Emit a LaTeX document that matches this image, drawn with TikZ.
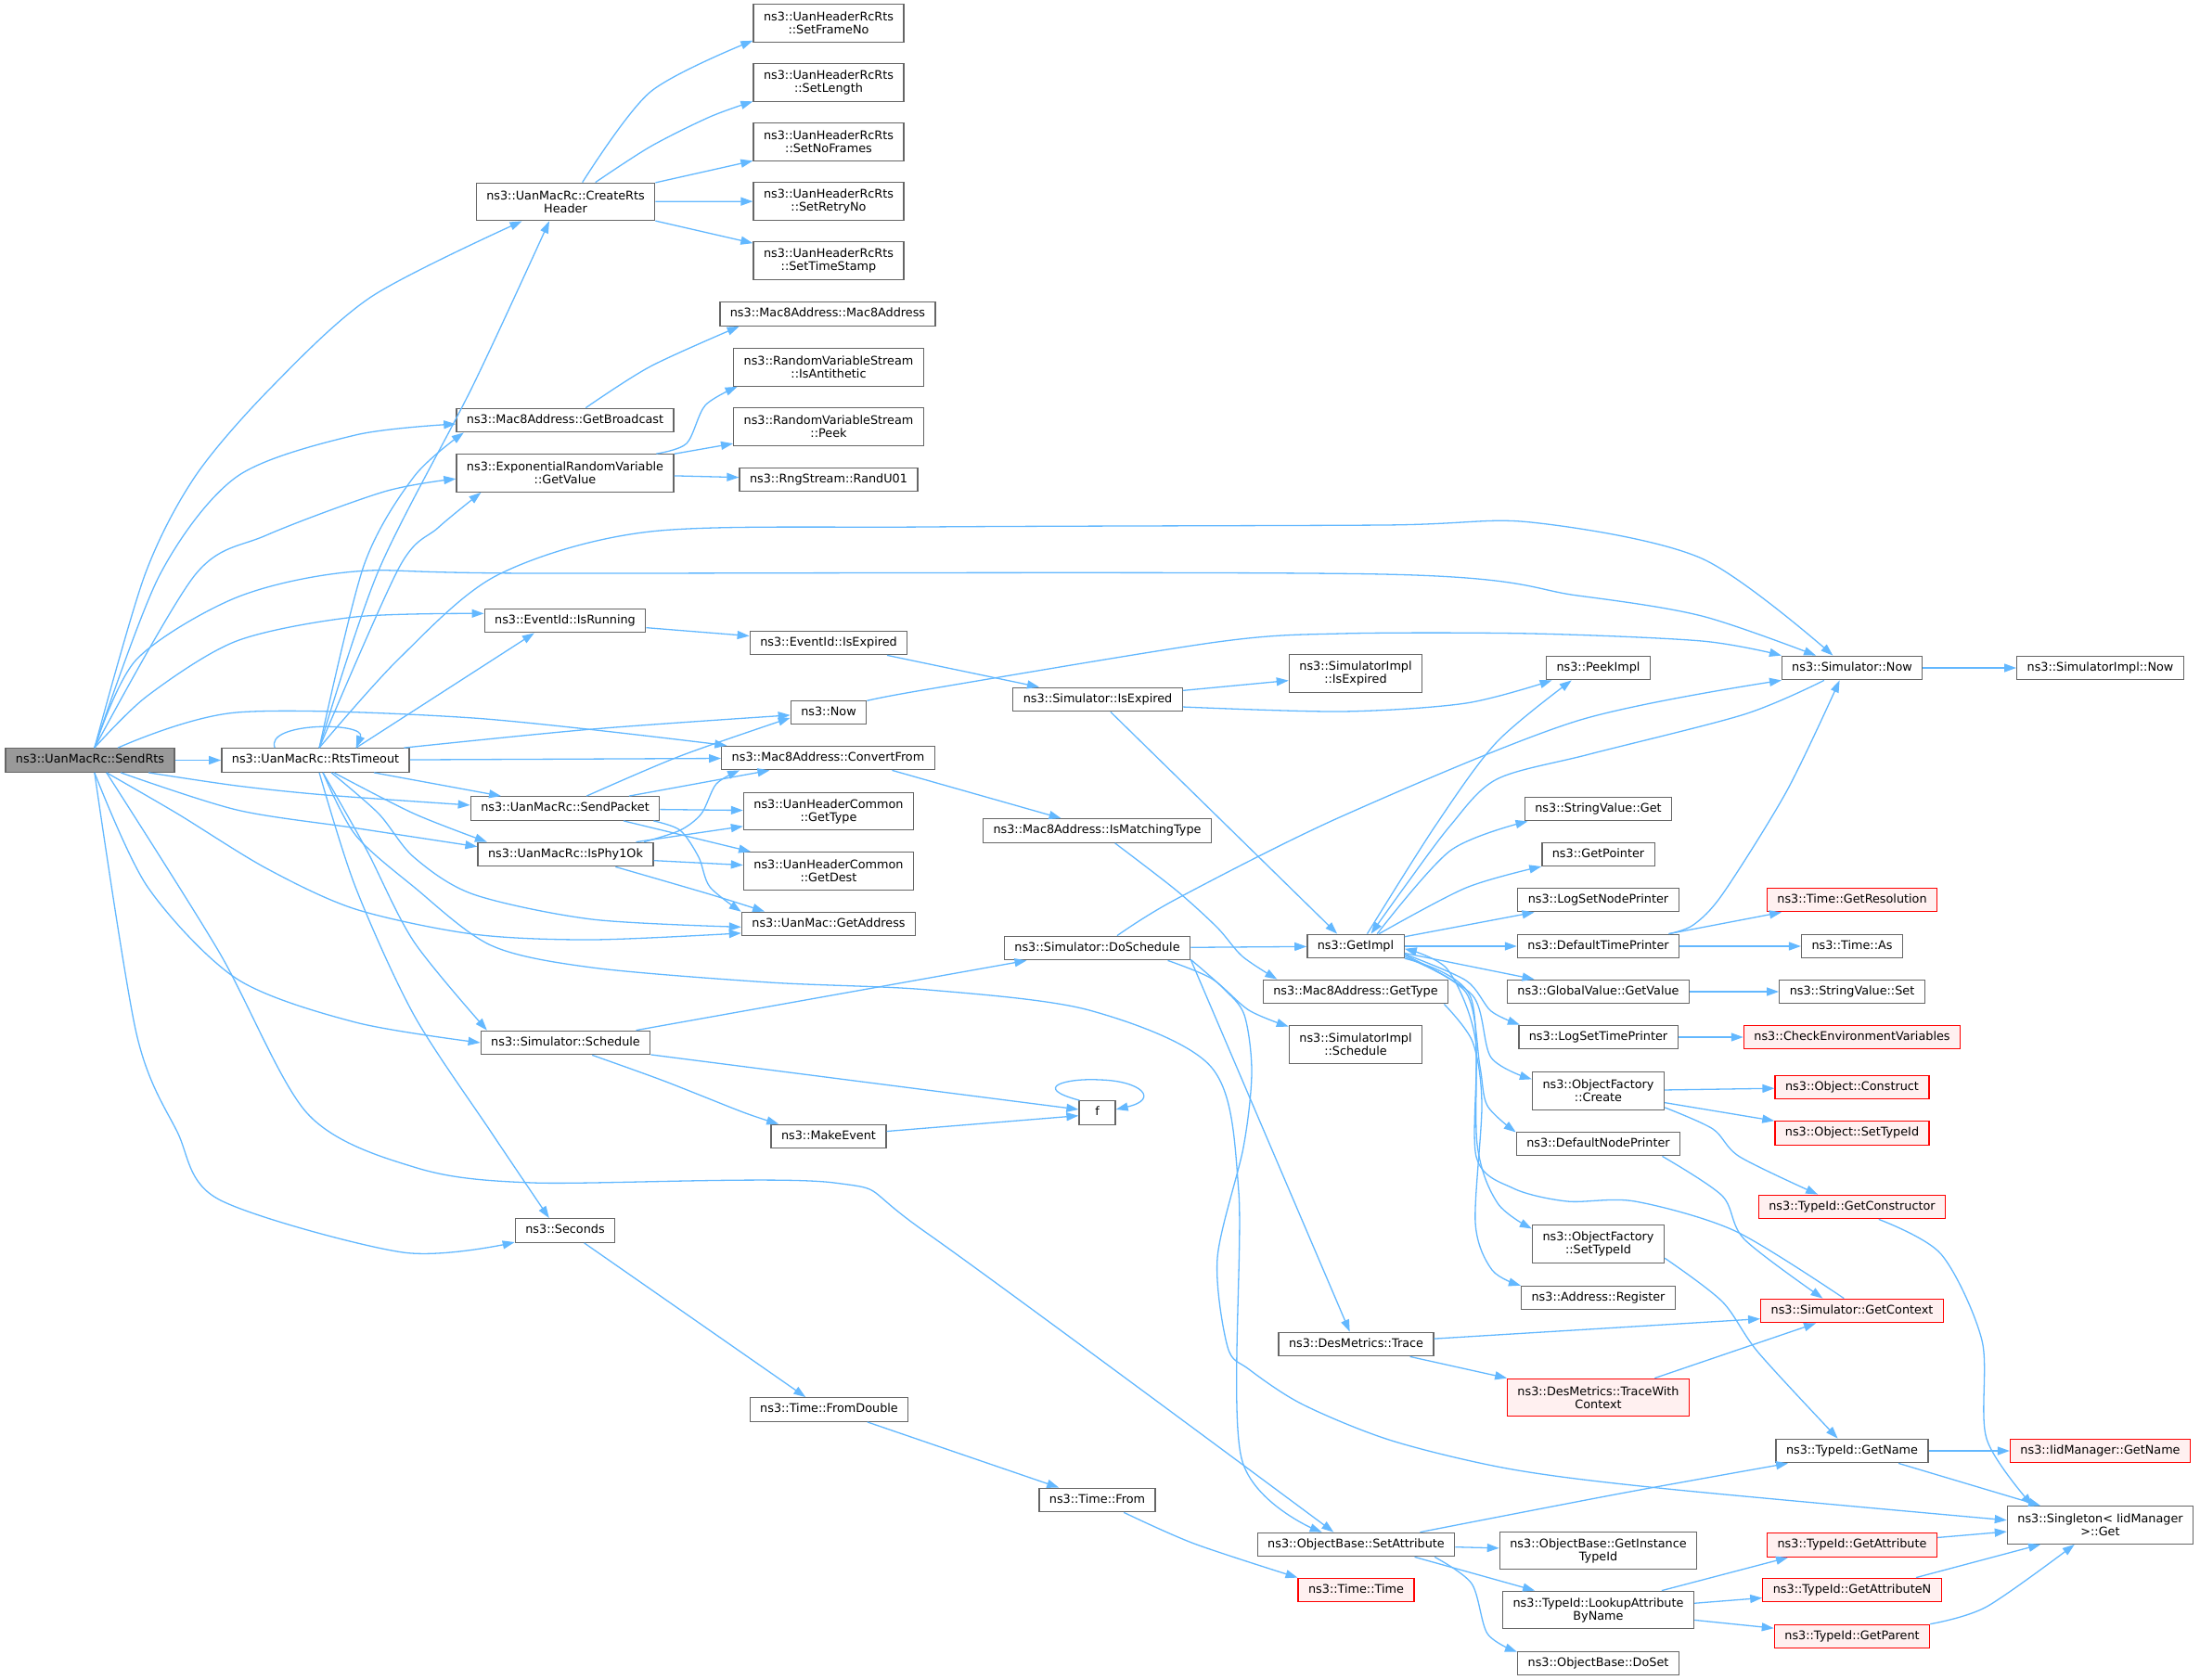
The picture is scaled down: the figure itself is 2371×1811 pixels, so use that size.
\documentclass[tikz,border=0pt]{standalone}
\usepackage{fontspec}
\setmainfont{DejaVu Sans}
\usetikzlibrary{arrows.meta}
\definecolor{edgeblue}{HTML}{63B8FF}
\definecolor{boxgray}{HTML}{666666}
\definecolor{boxred}{HTML}{FF0000}
\definecolor{redfill}{HTML}{FFF0F0}
\definecolor{grayfill}{HTML}{999999}
\tikzset{
    mybase/.style = {rectangle, line width=1.3pt, draw=boxgray, fill=white, inner xsep=11pt, inner ysep=2pt, font=\fontsize{12.8}{14}\selectfont, text=black},
    mynode/.style = {mybase, minimum height=25.5pt, text height=9.6pt, text depth=3.2pt},
    mynodet/.style = {mybase, minimum height=40.5pt, align=center},
    mynoder/.style = {mynode, draw=boxred, fill=redfill},
    mynodert/.style = {mynodet, draw=boxred, fill=redfill},
    mynodeg/.style = {mynode, fill=grayfill},
    edgeb/.style = {-{Triangle[length=13pt,width=9pt]}, line width=1.3pt, edgeblue}
}
\begin{document}
\begin{tikzpicture}[x=1pt, y=-1pt]
  \useasboundingbox (0,0) rectangle (2371,1811);
  % nodes
  \node[mynodeg] (sendrts) at (97,819.5) {ns3::UanMacRc::SendRts};
  \node[mynode] (rtstimeout) at (340,819.5) {ns3::UanMacRc::RtsTimeout};
  \node[mynodet] (createrts) at (609.5,217.5) {ns3::UanMacRc::CreateRts\\Header};
  \node[mynodet] (setframeno) at (893,25) {ns3::UanHeaderRcRts\\::SetFrameNo};
  \node[mynodet] (setlength) at (893,89) {ns3::UanHeaderRcRts\\::SetLength};
  \node[mynodet] (setnoframes) at (893,153) {ns3::UanHeaderRcRts\\::SetNoFrames};
  \node[mynodet] (setretryno) at (893,217) {ns3::UanHeaderRcRts\\::SetRetryNo};
  \node[mynodet] (settimestamp) at (893,281) {ns3::UanHeaderRcRts\\::SetTimeStamp};
  \node[mynode] (mac8addr) at (892,338.5) {ns3::Mac8Address::Mac8Address};
  \node[mynodet] (isantithetic) at (893,396) {ns3::RandomVariableStream\\::IsAntithetic};
  \node[mynodet] (peek) at (893,460) {ns3::RandomVariableStream\\::Peek};
  \node[mynode] (randu01) at (893,517) {ns3::RngStream::RandU01};
  \node[mynode] (getbroadcast) at (609,453) {ns3::Mac8Address::GetBroadcast};
  \node[mynodet] (getvalue) at (609,510) {ns3::ExponentialRandomVariable\\::GetValue};
  \node[mynode] (isrunning) at (609,669) {ns3::EventId::IsRunning};
  \node[mynode] (evisexpired) at (893,693) {ns3::EventId::IsExpired};
  \node[mynode] (now) at (893,768) {ns3::Now};
  \node[mynode] (convertfrom) at (892.5,817) {ns3::Mac8Address::ConvertFrom};
  \node[mynode] (sendpacket) at (609,871.5) {ns3::UanMacRc::SendPacket};
  \node[mynode] (isphy) at (609.5,921) {ns3::UanMacRc::IsPhy1Ok};
  \node[mynodet] (gettype) at (893,874.5) {ns3::UanHeaderCommon\\::GetType};
  \node[mynodet] (getdest) at (893,939) {ns3::UanHeaderCommon\\::GetDest};
  \node[mynode] (getaddress) at (893,996) {ns3::UanMac::GetAddress};
  \node[mynode] (schedule) at (609.5,1124) {ns3::Simulator::Schedule};
  \node[mynode] (makeevent) at (893,1225) {ns3::MakeEvent};
  \node[mynode] (seconds) at (609,1326.5) {ns3::Seconds};
  \node[mynode] (fromdouble) at (893.5,1519.5) {ns3::Time::FromDouble};
  \node[mynode] (simisexpired) at (1183,754) {ns3::Simulator::IsExpired};
  \node[mynodet] (implisexpired) at (1461,726) {ns3::SimulatorImpl\\::IsExpired};
  \node[mynode] (peekimpl) at (1722.5,720) {ns3::PeekImpl};
  \node[mynode] (simnow) at (1996,720) {ns3::Simulator::Now};
  \node[mynode] (implnow) at (2263.5,720) {ns3::SimulatorImpl::Now};
  \node[mynode] (ismatching) at (1182.5,895.5) {ns3::Mac8Address::IsMatchingType};
  \node[mynode] (doschedule) at (1182.5,1022) {ns3::Simulator::DoSchedule};
  \node[mynode] (getimpl) at (1461,1020) {ns3::GetImpl};
  \node[mynode] (gettypeaddr) at (1461,1069) {ns3::Mac8Address::GetType};
  \node[mynodet] (implschedule) at (1461,1126) {ns3::SimulatorImpl\\::Schedule};
  \node[mynode, minimum width=39pt] (f) at (1182.5,1199.5) {f};
  \node[mynode] (stringget) at (1722.5,872) {ns3::StringValue::Get};
  \node[mynode] (getpointer) at (1722.5,921) {ns3::GetPointer};
  \node[mynode] (lognode) at (1722.5,970) {ns3::LogSetNodePrinter};
  \node[mynode] (deftime) at (1722.5,1020) {ns3::DefaultTimePrinter};
  \node[mynode] (globalget) at (1722.5,1069) {ns3::GlobalValue::GetValue};
  \node[mynode] (logtime) at (1722.5,1118) {ns3::LogSetTimePrinter};
  \node[mynodet] (ofcreate) at (1722.5,1176) {ns3::ObjectFactory\\::Create};
  \node[mynode] (defnode) at (1722.5,1233) {ns3::DefaultNodePrinter};
  \node[mynodet] (ofsettypeid) at (1722.5,1341) {ns3::ObjectFactory\\::SetTypeId};
  \node[mynode] (addrregister) at (1722.5,1399) {ns3::Address::Register};
  \node[mynode] (trace) at (1461.5,1449) {ns3::DesMetrics::Trace};
  \node[mynodert] (tracectx) at (1722.5,1506.5) {ns3::DesMetrics::TraceWith\\Context};
  \node[mynode] (timefrom) at (1182.5,1617) {ns3::Time::From};
  \node[mynode] (setattr) at (1461.5,1665) {ns3::ObjectBase::SetAttribute};
  \node[mynodet] (getinst) at (1722.5,1671.5) {ns3::ObjectBase::GetInstance\\TypeId};
  \node[mynoder] (timetime) at (1461.5,1714) {ns3::Time::Time};
  \node[mynodet] (lookup) at (1722.5,1735.5) {ns3::TypeId::LookupAttribute\\ByName};
  \node[mynode] (doset) at (1722.5,1793) {ns3::ObjectBase::DoSet};
  \node[mynoder] (getres) at (1996,970) {ns3::Time::GetResolution};
  \node[mynode] (timeas) at (1996,1020) {ns3::Time::As};
  \node[mynode] (stringset) at (1996,1069) {ns3::StringValue::Set};
  \node[mynoder] (checkenv) at (1996,1118) {ns3::CheckEnvironmentVariables};
  \node[mynoder] (construct) at (1996,1172) {ns3::Object::Construct};
  \node[mynoder] (objsettypeid) at (1996,1221.5) {ns3::Object::SetTypeId};
  \node[mynoder] (getctor) at (1996,1301) {ns3::TypeId::GetConstructor};
  \node[mynoder] (getcontext) at (1996,1413) {ns3::Simulator::GetContext};
  \node[mynode] (getname) at (1996,1564) {ns3::TypeId::GetName};
  \node[mynoder] (iidgetname) at (2263.5,1564) {ns3::IidManager::GetName};
  \node[mynodet] (singleton) at (2263.5,1644) {ns3::Singleton< IidManager\\>::Get};
  \node[mynoder] (getattr) at (1996,1665.5) {ns3::TypeId::GetAttribute};
  \node[mynoder] (getattrn) at (1996,1714) {ns3::TypeId::GetAttributeN};
  \node[mynoder] (getparent) at (1996,1764) {ns3::TypeId::GetParent};

  % calls of SendRts
  \draw[edgeb] (sendrts) -- (rtstimeout);
  \draw[edgeb] plot[smooth] coordinates {(sendrts.70) (156,620) (210,514) (290,420) (400,320) (createrts.204)};
  \draw[edgeb] plot[smooth] coordinates {(sendrts.70) (172,620) (255,514) (383,469) (getbroadcast.182)};
  \draw[edgeb] plot[smooth] coordinates {(sendrts.70) (210,620) (287,577) (414,530) (getvalue.183)};
  \draw[edgeb] plot[smooth] coordinates {(sendrts.70) (147,711) (255,644) (383,616) (574,618) (1490,619) (1700,642) (1834,664) (simnow.161)};
  \draw[edgeb] plot[smooth] coordinates {(sendrts.70) (159,750) (255,691) (383,665) (isrunning.175)};
  \draw[edgeb] plot[smooth] coordinates {(sendrts.24) (255,768) (510,774) (convertfrom.173)};
  \draw[edgeb] plot[smooth] coordinates {(sendrts.-12) (255,847) (351,857) (sendpacket.178)};
  \draw[edgeb] plot[smooth] coordinates {(sendrts.-22) (255,873) (383,892.6) (isphy.175)};
  \draw[edgeb] plot[smooth] coordinates {(sendrts.-37) (191,877) (287,936) (383,980) (510,1007) (638,1013) (getaddress.186)};
  \draw[edgeb] plot[smooth] coordinates {(sendrts.-70) (159,956) (255,1055) (383,1102) (schedule.west)};
  \draw[edgeb] plot[smooth] coordinates {(sendrts.-37) (236,1026) (331,1200) (446,1258) (574,1275) (899,1275) (1000,1330) (setattr.151)};
  \draw[edgeb] plot[smooth] coordinates {(sendrts.-70) (147,1114) (191,1220) (236,1293) (434,1350) (seconds.193)};

  % calls of RtsTimeout
  \draw[edgeb] (rtstimeout.163) .. controls (285,778) and (395,778) .. (rtstimeout.17);
  \draw[edgeb] plot[smooth] coordinates {(rtstimeout.73) (408,615) (510,415) (createrts.230)};
  \draw[edgeb] plot[smooth] coordinates {(rtstimeout.73) (392,610) (446,514) (getbroadcast.187)};
  \draw[edgeb] plot[smooth] coordinates {(rtstimeout.73) (430,612) (472,569) (getvalue.193)};
  \draw[edgeb] plot[smooth] coordinates {(rtstimeout.73) (430,710) (536,620) (701,573) (1000,568) (1491,566) (1650,563) (1834,602) (simnow.147)};
  \draw[edgeb] (rtstimeout.17) -- (isrunning.202);
  \draw[edgeb] plot[smooth] coordinates {(rtstimeout.8) (638,786) (now.184)};
  \draw[edgeb] (rtstimeout) -- (convertfrom);
  \draw[edgeb] (rtstimeout.-12) -- (sendpacket.169);
  \draw[edgeb] plot[smooth] coordinates {(rtstimeout.-34) (446,877) (isphy.171)};
  \draw[edgeb] plot[smooth] coordinates {(rtstimeout.-38) (408,877) (446,924) (510,964) (638,991) (getaddress.182)};
  \draw[edgeb] plot[smooth] coordinates {(rtstimeout.-59) (383,900) (446,956) (529,1019) (638,1043) (829,1059) (1000,1067) (1174,1089) (1306,1151) (1335,1285) (1338,1572) (setattr.160)};
  \draw[edgeb] plot[smooth] coordinates {(rtstimeout.-59) (395,916) (446,1015) (schedule.171)};
  \draw[edgeb] plot[smooth] coordinates {(rtstimeout.-73) (383,956) (446,1094) (529,1220) (seconds.142)};

  % third column
  \draw[edgeb] plot[smooth] coordinates {(createrts.49) (701,99) (setframeno.193)};
  \draw[edgeb] plot[smooth] coordinates {(createrts.33) (701,158) (765,126) (setlength.194)};
  \draw[edgeb] (createrts.12) -- (setnoframes.194);
  \draw[edgeb] (createrts) -- (setretryno);
  \draw[edgeb] (createrts.-12) -- (settimestamp.167);
  \draw[edgeb] plot[smooth] coordinates {(getbroadcast.31) (701,395) (mac8addr.188)};
  \draw[edgeb] plot[smooth] coordinates {(getvalue.12) (740,478) (760,437) (isantithetic.192)};
  \draw[edgeb] (getvalue.10) -- (peek.190);
  \draw[edgeb] (getvalue) -- (randu01);
  \draw[edgeb] (isrunning.-5) -- (evisexpired.175);
  \draw[edgeb] plot[smooth] coordinates {(sendpacket.30) (733,815) (now.188)};
  \draw[edgeb] (sendpacket.11) -- (convertfrom.192);
  \draw[edgeb] (sendpacket) -- (gettype);
  \draw[edgeb] (sendpacket.-12) -- (getdest.166);
  \draw[edgeb] plot[smooth] coordinates {(sendpacket.-8) (733,895) (753,924) (765,956) (getaddress.172)};
  \draw[edgeb] plot[smooth] coordinates {(isphy.9) (733,895) (756,877) (772,845) (convertfrom.188)};
  \draw[edgeb] (isphy.10) -- (gettype.190);
  \draw[edgeb] (isphy.-4) -- (getdest.176);
  \draw[edgeb] plot[smooth] coordinates {(isphy.-14) (765,964) (getaddress.169)};
  \draw[edgeb] (schedule.10) -- (doschedule.190);
  \draw[edgeb] (schedule.-8) -- (f.170);
  \draw[edgeb] plot[smooth] coordinates {(schedule.-25) (715,1165) (801,1199) (makeevent.166)};
  \draw[edgeb] (seconds.-33) -- (fromdouble.152);

  % fourth column
  \draw[edgeb] (evisexpired.-12) -- (simisexpired.168);
  \draw[edgeb] plot[smooth] coordinates {(now.17) (1000,743) (1312,692) (1446,683) (1650,683) (1834,691) (simnow.170)};
  \draw[edgeb] (convertfrom.-11) -- (ismatching.161);
  \draw[edgeb] (makeevent.5) -- (f.189);
  \draw[edgeb] (f.145) .. controls (1110,1172) and (1150,1162) .. (1185,1164) .. controls (1230,1165) and (1250,1185) .. (f.10);
  \draw[edgeb] (fromdouble.-18) -- (timefrom.162);

  % fifth column
  \draw[edgeb] (simisexpired.6) -- (implisexpired.186);
  \draw[edgeb] plot[smooth] coordinates {(simisexpired.-5) (1446,767) (1580,758) (peekimpl.195)};
  \draw[edgeb] (simisexpired.-44) -- (getimpl.146);
  \draw[edgeb] plot[smooth] coordinates {(ismatching.-35) (1268,960) (1312,1000) (1339,1031) (gettypeaddr.171)};
  \draw[edgeb] plot[smooth] coordinates {(doschedule.32) (1268,969) (1446,880) (1700,777) (simnow.190)};
  \draw[edgeb] (doschedule) -- (getimpl);
  \draw[edgeb] plot[smooth] coordinates {(doschedule.-10) (1306,1055) (1346,1089) (implschedule.165)};
  \draw[edgeb] (doschedule.-7) -- (trace.117);
  \draw[edgeb] plot[smooth] coordinates {(doschedule.-7) (1318,1065) (1341,1094) (1349,1156) (1340,1237) (1312,1356) (1323,1452) (1346,1476) (1404,1514) (1500,1553) (1630,1584) (1797,1605) (singleton.177)};
  \draw[edgeb] plot[smooth] coordinates {(timefrom.-25) (1287,1664) (timetime.168)};

  % GetImpl and the right side
  \draw[edgeb] plot[smooth] coordinates {(getimpl.47) (1547,890) (1613,800) (peekimpl.205)};
  \draw[edgeb] plot[smooth] coordinates {(simnow.204) (1880,770) (1713,813) (1613,840) (1563,890) (1513,957) (getimpl.39)};
  \draw[edgeb] plot[smooth] coordinates {(getimpl.30) (1563,917) (stringget.190)};
  \draw[edgeb] plot[smooth] coordinates {(getimpl.28) (1580,957) (getpointer.192)};
  \draw[edgeb] (getimpl.11) -- (lognode.191);
  \draw[edgeb] (getimpl) -- (deftime);
  \draw[edgeb] (getimpl.-8) -- (globalget.169);
  \draw[edgeb] plot[smooth] coordinates {(getimpl.-9) (1580,1057) (1607,1090) (logtime.171)};
  \draw[edgeb] plot[smooth] coordinates {(getimpl.-10) (1587,1073) (1607,1140) (ofcreate.170)};
  \draw[edgeb] plot[smooth] coordinates {(getimpl.-12) (1580,1070) (1595,1150) (1603,1192) (defnode.172)};
  \draw[edgeb] plot[smooth] coordinates {(getimpl.-14) (1585,1075) (1592,1234) (1614,1297) (ofsettypeid.167)};
  \draw[edgeb] plot[smooth] coordinates {(gettypeaddr.-8) (1587,1123) (1597,1190) (1590,1318) (1608,1369) (addrregister.171)};
  \draw[edgeb] plot[smooth] coordinates {(getcontext.123) (1870,1327) (1762,1295) (1689,1295) (1631,1281) (1591,1247) (1590,1120) (1560,1045) (getimpl.-3)};
  \draw[edgeb] (trace.4) -- (getcontext.185);
  \draw[edgeb] (trace.-13) -- (tracectx.168);
  \draw[edgeb] plot[smooth] coordinates {(setattr.11) (1746,1610) (getname.191)};
  \draw[edgeb] (setattr) -- (getinst);
  \draw[edgeb] (setattr.-12) -- (lookup.163);
  \draw[edgeb] plot[smooth] coordinates {(setattr.-9) (1586,1707) (1603,1761) (doset.172)};

  \draw[edgeb] (simnow) -- (implnow);
  \draw[edgeb] plot[smooth] coordinates {(deftime.10) (1825,997) (1857,963) (1926,852) (simnow.225)};
  \draw[edgeb] (deftime.10) -- (getres.190);
  \draw[edgeb] (deftime) -- (timeas);
  \draw[edgeb] (globalget) -- (stringset);
  \draw[edgeb] (logtime) -- (checkenv);
  \draw[edgeb] (ofcreate) -- (construct);
  \draw[edgeb] (ofcreate.-10) -- (objsettypeid.171);
  \draw[edgeb] plot[smooth] coordinates {(ofcreate.-14) (1846,1217) (1875,1247) (getctor.160)};
  \draw[edgeb] plot[smooth] coordinates {(defnode.-11) (1856,1289) (1880,1336) (getcontext.157)};
  \draw[edgeb] plot[smooth] coordinates {(ofsettypeid.-12) (1856,1403) (1895,1458) (getname.139)};
  \draw[edgeb] (tracectx.19) -- (getcontext.199);
  \draw[edgeb] (lookup.17) -- (getattr.191);
  \draw[edgeb] (lookup.4) -- (getattrn.185);
  \draw[edgeb] (lookup.-6) -- (getparent.174);
  \draw[edgeb] plot[smooth] coordinates {(getctor.-25) (2092,1352) (2136,1445) (2141,1551) (singleton.164)};
  \draw[edgeb] (getname) -- (iidgetname);
  \draw[edgeb] (getname.-15) -- (singleton.162);
  \draw[edgeb] (getattr.5) -- (singleton.184);
  \draw[edgeb] (getattrn.11) -- (singleton.198);
  \draw[edgeb] plot[smooth] coordinates {(getparent.9) (2141,1732) (singleton.217)};
\end{tikzpicture}
\end{document}
